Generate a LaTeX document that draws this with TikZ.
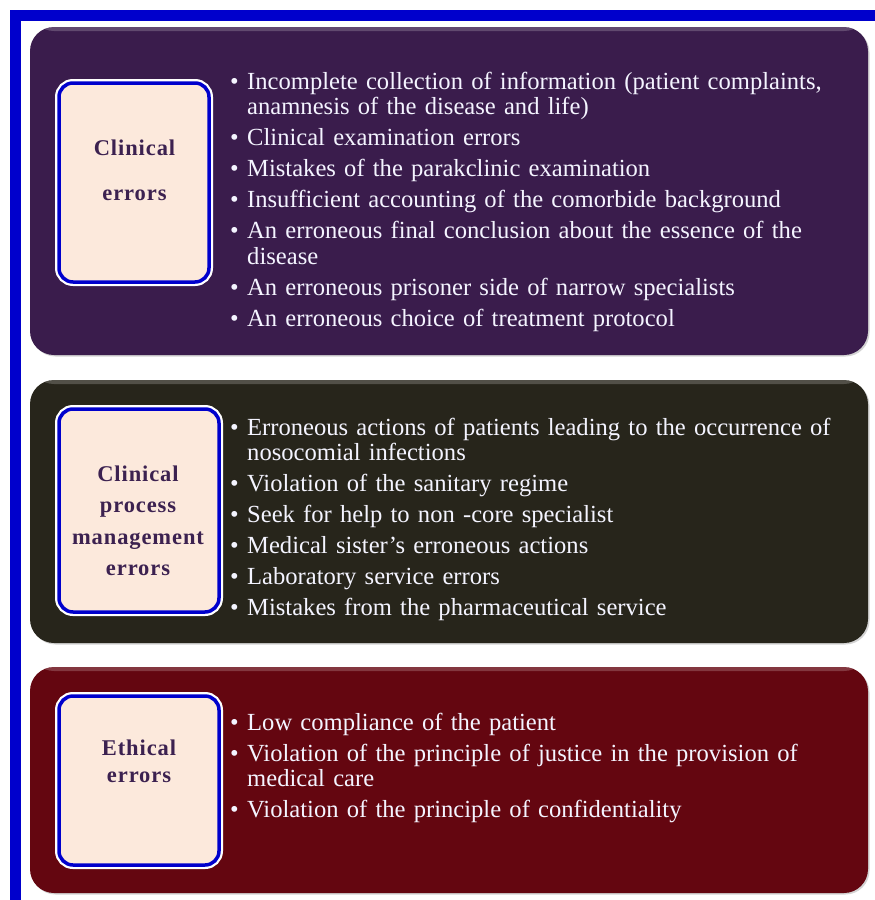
\documentclass[tikz,border=0pt]{standalone}
\usepackage{fontspec}
\setmainfont{Liberation Serif}
\newfontfamily\labelfont[LetterSpace=4]{Liberation Serif}
\usetikzlibrary{shadows}

\definecolor{frameblue}{HTML}{0000CC}
\definecolor{clinpurple}{HTML}{3A1C4C}
\definecolor{procdark}{HTML}{27251B}
\definecolor{ethicred}{HTML}{640610}
\definecolor{boxfill}{HTML}{FCE9DC}
\definecolor{labeltext}{HTML}{3C2150}
\definecolor{itemtext}{HTML}{F4F4FF}

% one bullet line, hanging indent for wrapped lines
\newcommand{\bitem}[1]{\hangindent=17pt\hangafter=1\noindent\strut\makebox[17pt][l]{\textbullet}#1\par}

\begin{document}
\begin{tikzpicture}[x=1pt,y=-1pt,
  panel/.style={rounded corners=24pt, minimum width=838pt, inner sep=0pt,
    drop shadow={shadow xshift=1.5pt, shadow yshift=-1.5pt, opacity=.35, fill=gray},
    path picture={\fill[white,opacity=.2] (path picture bounding box.north west)
      rectangle ([yshift=-4pt]path picture bounding box.north east);}},
  catbox/.style={fill=boxfill, draw=frameblue, line width=3.5pt, rounded corners=14pt,
    inner sep=0pt, preaction={draw=white, line width=8pt}},
  catlabel/.style={anchor=north, align=center, inner sep=0pt, text=labeltext,
    font=\labelfont\bfseries\fontsize{22.5}{27}\selectfont},
  itemlist/.style={anchor=north west, text width=640pt, align=left, inner sep=0pt,
    text=itemtext, font=\fontsize{24.6}{25.5}\selectfont,
    execute at begin node={\setlength{\parskip}{5.5pt}}}]
\useasboundingbox (0,0) rectangle (875,900);

% blue frame
\fill[frameblue] (10,10) rectangle (875,21);
\fill[frameblue] (10,10) rectangle (21,900);

% panels
\node[panel, fill=clinpurple, minimum height=328pt] (clin) at (449,191) {};
\node[panel, fill=procdark, minimum height=263pt] (proc) at (449,511.5) {};
\node[panel, fill=ethicred, minimum height=226pt] (ethic) at (449,780) {};

% category boxes
\node[catbox, minimum width=150pt, minimum height=199pt] (clinbox) at (134,182.5) {};
\node[catbox, minimum width=160pt, minimum height=203pt] (procbox) at (139,510.5) {};
\node[catbox, minimum width=160pt, minimum height=169pt] (ethicbox) at (139,780.5) {};

\node[catlabel] (clinlab) at (134.5,140) {Clinical\\[18pt]errors};
\node[catlabel] (proclab) at (138,465.5) {Clinical\\[4.5pt]process\\[4.5pt]management\\[4.5pt]errors};
\node[catlabel] (ethiclab) at (139,740) {Ethical\\errors};

% item lists
\node[itemlist] (clinlist) at (230,71) {%
\bitem{Incomplete collection of information (patient complaints,\newline anamnesis of the disease and life)}
\bitem{Clinical examination errors}
\bitem{Mistakes of the parakclinic examination}
\bitem{Insufficient accounting of the comorbide background}
\bitem{An erroneous final conclusion about the essence of the\newline disease}
\bitem{An erroneous prisoner side of narrow specialists}
\bitem{An erroneous choice of treatment protocol}};

\node[itemlist] (proclist) at (230,417) {%
\bitem{Erroneous actions of patients leading to the occurrence of\newline nosocomial infections}
\bitem{Violation of the sanitary regime}
\bitem{Seek for help to non -core specialist}
\bitem{Medical sister's erroneous actions}
\bitem{Laboratory service errors}
\bitem{Mistakes from the pharmaceutical service}};

\node[itemlist] (ethiclist) at (230,712) {%
\bitem{Low compliance of the patient}
\bitem{Violation of the principle of justice in the provision of\newline medical care}
\bitem{Violation of the principle of confidentiality}};
\end{tikzpicture}
\end{document}
